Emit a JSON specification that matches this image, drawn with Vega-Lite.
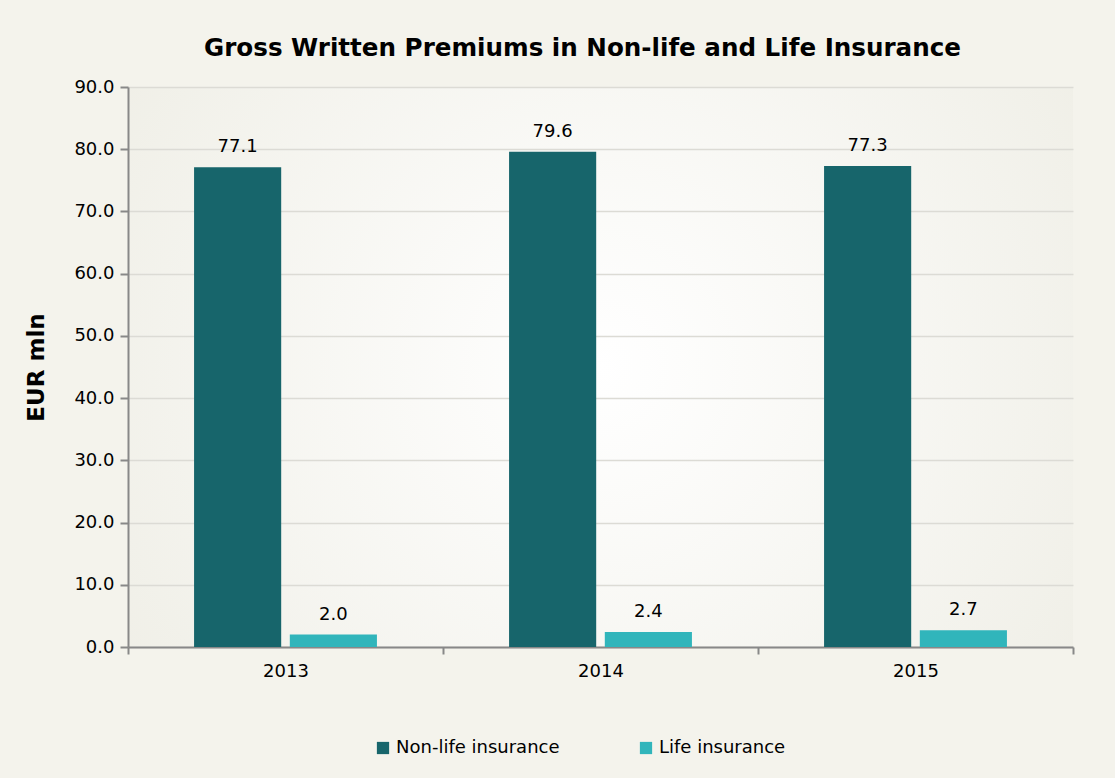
{
  "$schema": "https://vega.github.io/schema/vega-lite/v6.json",
  "autosize": "none",
  "width": 945,
  "height": 560,
  "padding": {"left": 128, "top": 87, "right": 42, "bottom": 131},
  "background": "#f4f3ec",
  "title": {
    "text": "Gross Written Premiums in Non-life and Life Insurance",
    "font": "DejaVu Sans",
    "fontSize": 24.6,
    "fontWeight": "bold",
    "color": "#000000",
    "anchor": "middle",
    "dx": -18,
    "offset": 16
  },
  "config": {
    "font": "DejaVu Sans",
    "view": {
      "stroke": null,
      "fill": {
        "gradient": "radial",
        "x1": 0.5, "y1": 0.5, "r1": 0,
        "x2": 0.5, "y2": 0.5, "r2": 0.75,
        "stops": [
          {"offset": 0, "color": "#ffffff"},
          {"offset": 1, "color": "#ecebe1"}
        ]
      }
    }
  },
  "data": {
    "values": [
      {"year": "2013", "type": "Non-life insurance", "value": 77.1},
      {"year": "2013", "type": "Life insurance", "value": 2.0},
      {"year": "2014", "type": "Non-life insurance", "value": 79.6},
      {"year": "2014", "type": "Life insurance", "value": 2.4},
      {"year": "2015", "type": "Non-life insurance", "value": 77.3},
      {"year": "2015", "type": "Life insurance", "value": 2.7}
    ]
  },
  "encoding": {
    "x": {
      "field": "year",
      "type": "nominal",
      "scale": {"paddingInner": 0, "paddingOuter": 0},
      "axis": {
        "title": null,
        "labelAngle": 0,
        "labelFontSize": 18,
        "labelColor": "#000000",
        "labelPadding": 8,
        "domainColor": "#888888",
        "domainWidth": 2,
        "tickColor": "#888888",
        "tickWidth": 2,
        "tickSize": 7,
        "tickBand": "extent"
      }
    },
    "xOffset": {
      "field": "type",
      "sort": ["Non-life insurance", "Life insurance"],
      "scale": {"paddingInner": 0.09, "paddingOuter": 0.69}
    },
    "y": {
      "field": "value",
      "type": "quantitative",
      "scale": {"domain": [0, 90]},
      "axis": {
        "title": "EUR mln",
        "titleFontSize": 23,
        "titleFontWeight": "bold",
        "titleColor": "#000000",
        "titlePadding": 25,
        "values": [0, 10, 20, 30, 40, 50, 60, 70, 80, 90],
        "format": ".1f",
        "labelFontSize": 18,
        "labelColor": "#000000",
        "labelPadding": 6,
        "domainColor": "#888888",
        "domainWidth": 2,
        "tickColor": "#888888",
        "tickWidth": 2,
        "tickSize": 8,
        "gridColor": "#dcdbd5",
        "gridWidth": 1.5
      }
    }
  },
  "layer": [
    {
      "mark": {"type": "bar"},
      "encoding": {
        "color": {
          "field": "type",
          "type": "nominal",
          "sort": ["Non-life insurance", "Life insurance"],
          "scale": {
            "domain": ["Non-life insurance", "Life insurance"],
            "range": ["#17656b", "#31b5bb"]
          },
          "legend": {
            "title": null,
            "orient": "none",
            "direction": "horizontal",
            "legendX": 246,
            "legendY": 652,
            "symbolType": "square",
            "symbolSize": 150,
            "symbolStrokeWidth": 0,
            "labelFontSize": 18,
            "labelLimit": 400,
            "labelColor": "#000000",
            "labelOffset": 4,
            "columnPadding": 77
          }
        }
      }
    },
    {
      "mark": {"type": "text", "baseline": "bottom", "dy": -11, "fontSize": 18, "color": "#000000"},
      "encoding": {
        "text": {"field": "value", "type": "quantitative", "format": ".1f"}
      }
    }
  ]
}
